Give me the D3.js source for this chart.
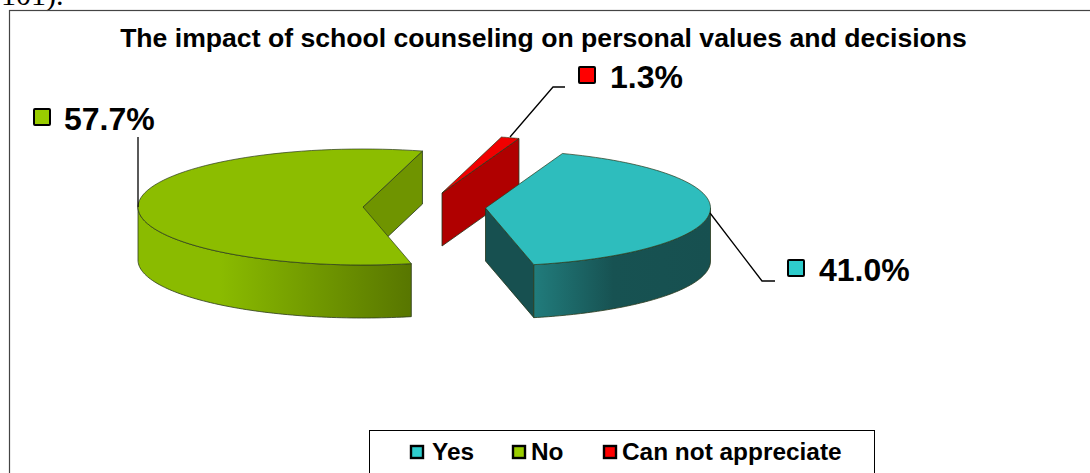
<!DOCTYPE html>
<html>
<head>
<meta charset="utf-8">
<script src="https://cdn.jsdelivr.net/npm/d3@7"></script>
<style>
html,body{margin:0;padding:0;background:#fff;overflow:hidden;}
text{font-family:"Liberation Sans",Arial,sans-serif;font-weight:bold;fill:#000;}
</style>
</head>
<body>
<div id="chart"></div>
<script>
var categories = ["Yes","No","Can not appreciate"];
var values = [41.0,57.7,1.3];
var valueLabels = ["41.0%","57.7%","1.3%"];
var topColors = ["#2ebdbd","#8cbd00","#f00000"];
var keyColors = ["#2ecccc","#99cc00","#ff0000"];
var cutColors = ["#175050","#6f9400","#b00000"];

var width = 1090, height = 473;
var rx = 225, ry = 58, depth = 53;
//where each slice apex was pulled to
var centers = [[485.5,208],[363,207],[442,193]];
var toRad = Math.PI/180;

var svg = d3.select("#chart").append("svg")
	.attr("width",width)
	.attr("height",height)
	.style("display","block");

var defs = svg.append("defs");
var greenGrad = defs.append("linearGradient").attr("id","wallNo");
greenGrad.append("stop").attr("offset","0.3").attr("stop-color","#8abb00");
greenGrad.append("stop").attr("offset","1").attr("stop-color","#587600");
var tealGrad = defs.append("linearGradient").attr("id","wallYes");
tealGrad.append("stop").attr("offset","0").attr("stop-color","#217c7c");
tealGrad.append("stop").attr("offset","0.45").attr("stop-color","#175252");
tealGrad.append("stop").attr("offset","1").attr("stop-color","#175050");

//text from the page above the chart
svg.append("text").attr("x",1).attr("y",5)
	.style("font-family","'Liberation Serif'").style("font-weight","normal").style("font-size","30px")
	.text("101).");

//frame, right side runs off the picture
svg.append("rect").attr("x",9.5).attr("y",10.5).attr("width",1100).attr("height",480)
	.attr("fill","none").attr("stroke","#444").attr("stroke-width",1.2);

svg.append("text").attr("x",543.5).attr("y",47).attr("text-anchor","middle")
	.style("font-size","26.6px").text("The impact of school counseling on personal values and decisions");

var pie = d3.pie().sort(null).startAngle(20*toRad).endAngle(380*toRad);
var slices = pie(values);

//angle is clockwise from the top of the ellipse
function pt(c,a,z){
	return [c[0]+rx*Math.sin(a), c[1]-ry*Math.cos(a)+(z||0)];
}
function arcPts(c,a0,a1,z){
	var out = d3.range(0,81).map(function(i){ return pt(c,a0+(a1-a0)*i/80,z); });
	return out;
}
var line = d3.line();

//back to front: red, green, teal
[2,1,0].forEach(function(i){
	var s = slices[i];
	var c = centers[i];
	var g = svg.append("g");
	//cut face
	var p = pt(c,s.endAngle);
	g.append("path")
		.attr("d",line([c,p,[p[0],p[1]+depth],[c[0],c[1]+depth]])+"Z")
		.attr("fill",cutColors[i]).attr("stroke","#22331a").attr("stroke-width",0.8);
	//outer wall, only the front half of the ellipse shows
	var a0 = Math.max(s.startAngle,Math.PI/2), a1 = Math.min(s.endAngle,Math.PI*1.5);
	if(a1>a0){
		var wall = arcPts(c,a0,a1,0).concat(arcPts(c,a1,a0,depth));
		g.append("path").attr("d",line(wall)+"Z")
			.attr("fill",i==0 ? "url(#wallYes)" : "url(#wallNo)")
			.attr("stroke","#2b3a1c").attr("stroke-width",0.8);
	}
	//top
	var top = [c].concat(arcPts(c,s.startAngle,s.endAngle,0));
	g.append("path").attr("d",line(top)+"Z")
		.attr("fill",topColors[i]).attr("stroke","#2b3a1c").attr("stroke-width",0.7);
});

//leader lines
var leaders = [
	[[710,213],[762,281],[775,281]],
	[[138,207],[138,137]],
	[[510,137],[553,87],[565,87]]
];
leaders.forEach(function(l){
	svg.append("path").attr("d",line(l)).attr("fill","none").attr("stroke","#000").attr("stroke-width",1.3);
});

//data labels
var labelPos = [[819,281],[64,130],[610,88]];
var labelKey = [[788,260],[34,109],[579,67]];
slices.forEach(function(s,i){
	svg.append("rect").attr("x",labelKey[i][0]).attr("y",labelKey[i][1]).attr("width",16).attr("height",16).attr("rx",1)
		.attr("fill",keyColors[i]).attr("stroke","#000").attr("stroke-width",2);
	svg.append("text").attr("x",labelPos[i][0]).attr("y",labelPos[i][1]).style("font-size","32px").text(valueLabels[i]);
});

//legend
svg.append("rect").attr("x",369.5).attr("y",430.5).attr("width",505).attr("height",60)
	.attr("fill","#fff").attr("stroke","#000").attr("stroke-width",1);
var legendKey = [411,513,604];
var legendText = [432,531,622];
categories.forEach(function(d,i){
	svg.append("rect").attr("x",legendKey[i]).attr("y",446).attr("width",12).attr("height",12)
		.attr("fill",keyColors[i]).attr("stroke","#000").attr("stroke-width",2.4);
	svg.append("text").attr("x",legendText[i]).attr("y",460).style("font-size","24.4px").text(d);
});
</script>
</body>
</html>
